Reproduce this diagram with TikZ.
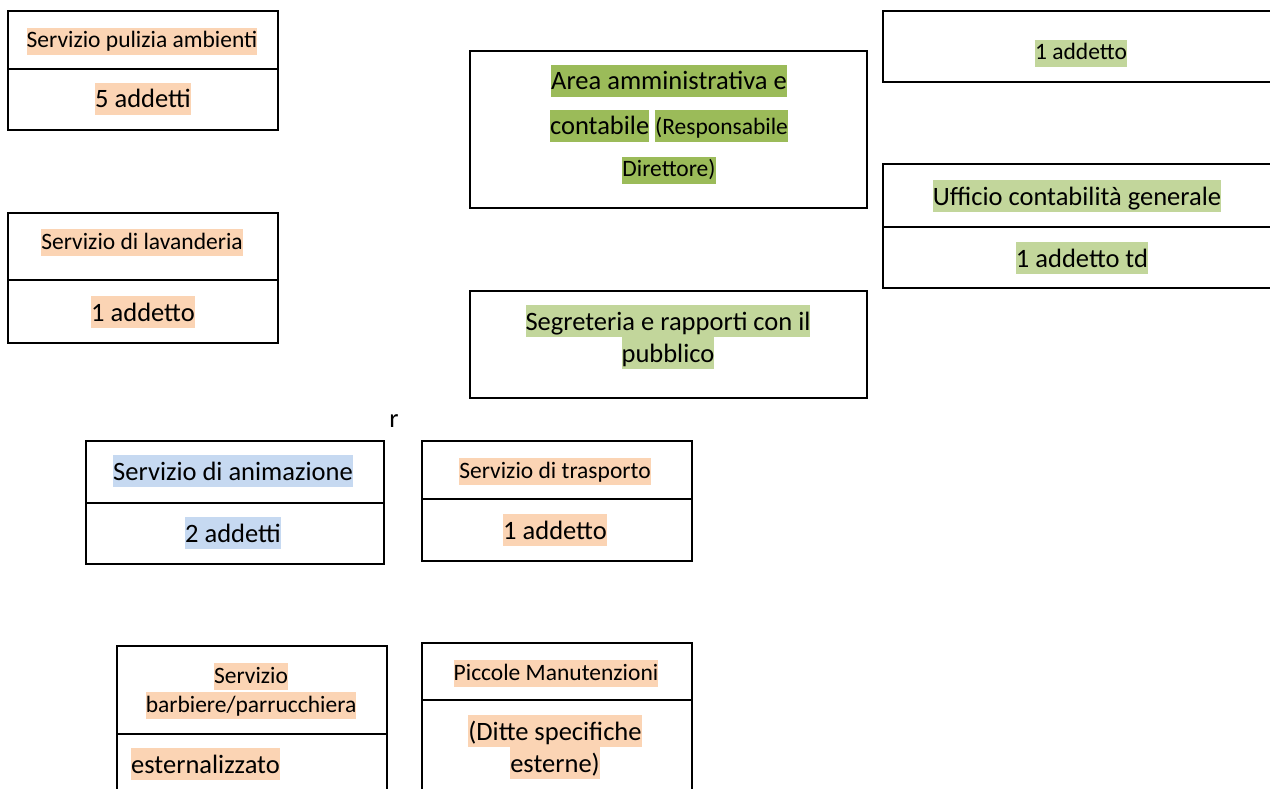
\documentclass[tikz,border=0pt]{standalone}
\usepackage{fontspec}
\setmainfont{Carlito}
\definecolor{peach}{HTML}{FBD4B4}
\definecolor{lgreen}{HTML}{C2D69B}
\definecolor{dgreen}{HTML}{9BBB59}
\definecolor{lblue}{HTML}{C6D9F1}
\newcommand\hlS[2]{{\setlength\fboxsep{0pt}\colorbox{#1}{\rule[-0.3em]{0pt}{1.15em}#2}}}
\newcommand\hlL[2]{{\setlength\fboxsep{0pt}\colorbox{#1}{\rule[-0.27em]{0pt}{1.2em}#2}}}
\newcommand\smallfnt{\fontsize{23.5}{28}\selectfont}
\tikzset{
  box/.style={draw=black,line width=2.5pt},
  sm/.style={anchor=base,inner sep=0pt,font=\smallfnt},
  lg/.style={anchor=base,inner sep=0pt,font=\fontsize{26.5}{32}\selectfont},
}
\begin{document}
\begin{tikzpicture}[x=1pt,y=-1pt]
\clip (0,0) rectangle (1270,789);
\fill[white] (0,0) rectangle (1270,789);

% A: Servizio pulizia ambienti
\draw[box] (8,11) rectangle (278,130);
\draw[box] (8,69) -- (278,69);
\node[sm] (a1) at (142,48) {\hlS{peach}{Servizio pulizia ambienti}};
\node[lg] (a2) at (143,108) {\hlL{peach}{5 addetti}};

% B: Servizio di lavanderia
\draw[box] (8,213) rectangle (278,343);
\draw[box] (8,280) -- (278,280);
\node[sm] (b1) at (142,249) {\hlS{peach}{Servizio di lavanderia}};
\node[lg] (b2) at (143,321) {\hlL{peach}{1 addetto}};

% C: Area amministrativa
\draw[box] (470,51) rectangle (867,208);
\node[lg] (c1) at (669,90) {\hlL{dgreen}{Area amministrativa e}};
\node[lg] (c2) at (669,135) {\hlL{dgreen}{contabile}\ \hlL{dgreen}{\smallfnt(Responsabile}};
\node[sm] (c3) at (669,177) {\hlS{dgreen}{Direttore)}};

% D: 1 addetto (top right)
\draw[box] (883,11) rectangle (1290,82);
\node[sm] (d1) at (1081,60) {\hlS{lgreen}{1 addetto}};

% E: Ufficio contabilita generale
\draw[box] (883,164) rectangle (1290,288);
\draw[box] (883,227) -- (1290,227);
\node[lg] (e1) at (1077,205) {\hlL{lgreen}{Ufficio contabilità generale}};
\node[lg] (e2) at (1082,267) {\hlL{lgreen}{1 addetto td}};

% F: Segreteria
\draw[box] (470,291) rectangle (867,398);
\node[lg] (f1) at (668,330) {\hlL{lgreen}{Segreteria e rapporti con il}};
\node[lg] (f2) at (668,362) {\hlL{lgreen}{pubblico}};

% stray r
\node[lg] (r) at (394,427) {r};

% G: Servizio di animazione
\draw[box] (86,441) rectangle (384,564);
\draw[box] (86,503) -- (384,503);
\node[lg] (g1) at (233,480) {\hlL{lblue}{Servizio di animazione}};
\node[lg] (g2) at (233,542) {\hlL{lblue}{2 addetti}};

% H: Servizio di trasporto
\draw[box] (422,441) rectangle (692,561);
\draw[box] (422,499) -- (692,499);
\node[sm] (h1) at (555,478) {\hlS{peach}{Servizio di trasporto}};
\node[lg] (h2) at (555,539) {\hlL{peach}{1 addetto}};

% I: Servizio barbiere/parrucchiera
\draw[box] (117,646) rectangle (387,800);
\draw[box] (117,734) -- (387,734);
\node[sm] (i1) at (251,683) {\hlS{peach}{Servizio}};
\node[sm] (i2) at (251,712) {\hlS{peach}{barbiere/parrucchiera}};
\node[lg,anchor=base west] (i3) at (131,773) {\hlL{peach}{esternalizzato}};

% J: Piccole Manutenzioni
\draw[box] (422,643) rectangle (692,800);
\draw[box] (422,700) -- (692,700);
\node[sm] (j1) at (556,680) {\hlS{peach}{Piccole Manutenzioni}};
\node[lg] (j2) at (555,740) {\hlL{peach}{(Ditte specifiche}};
\node[lg] (j3) at (555,772) {\hlL{peach}{esterne)}};
\end{tikzpicture}
\end{document}
